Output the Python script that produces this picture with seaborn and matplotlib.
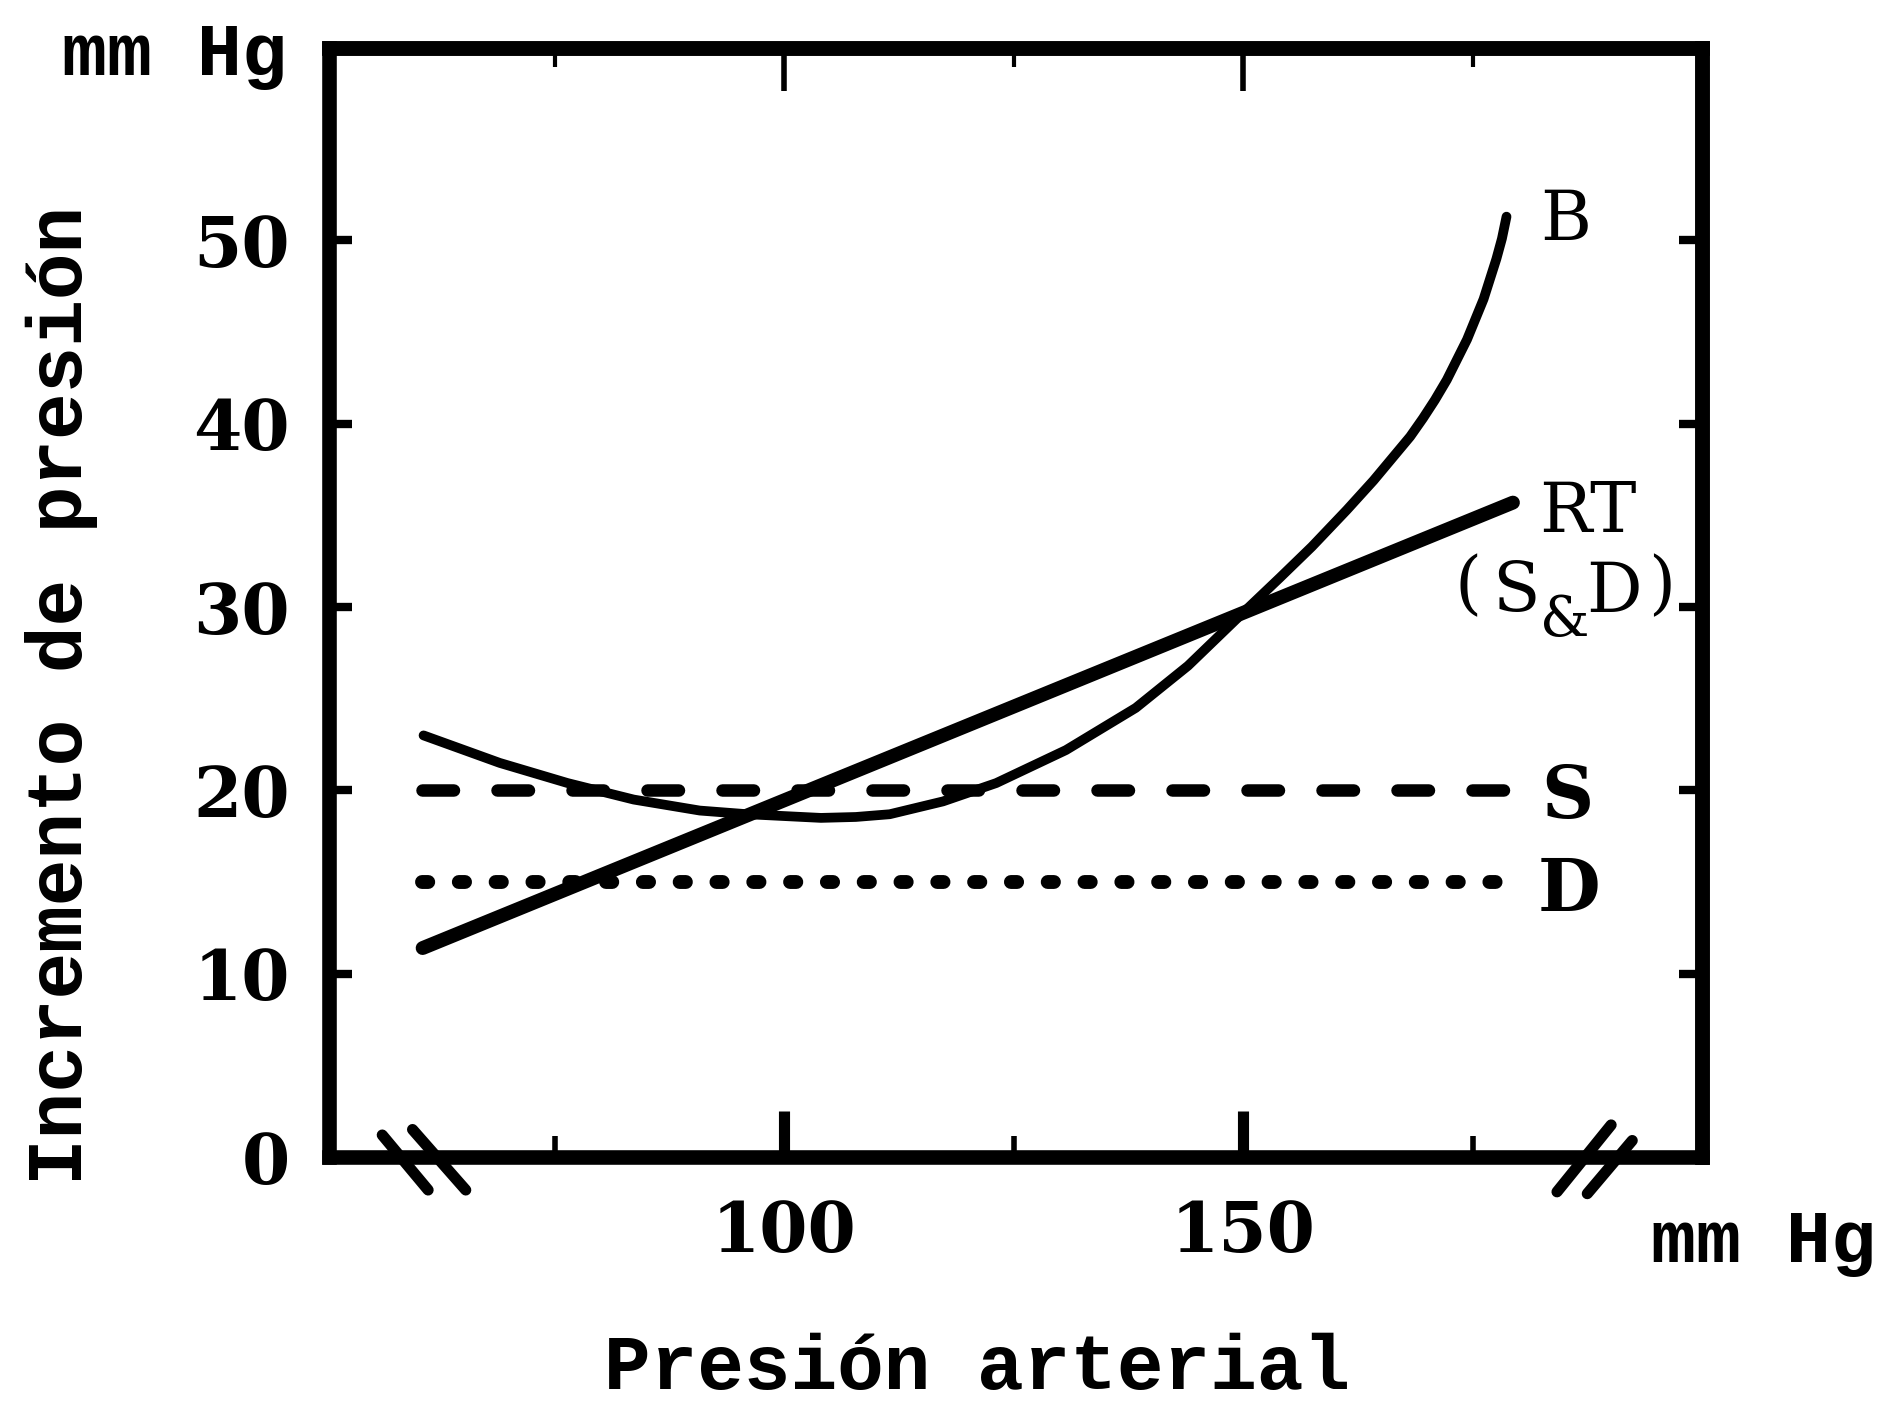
import matplotlib
matplotlib.use("Agg")
import matplotlib.pyplot as plt
import seaborn as sns

# Curve values (mm Hg)
b_x = [60.7, 69.0, 76.4, 83.6, 90.8, 96.0, 100.0, 104.0, 107.8, 111.5, 117.3,
       123.1, 130.7, 138.3, 144.0, 149.8, 154.0, 157.5, 161.3, 164.2, 166.7,
       168.2, 169.6, 170.9, 172.2, 173.3, 174.4, 175.3, 176.2, 176.9, 177.6,
       178.2, 178.7]
b_y = [23.0, 21.5, 20.4, 19.5, 18.9, 18.7, 18.6, 18.5, 18.55, 18.7, 19.4,
       20.4, 22.2, 24.5, 26.8, 29.6, 31.6, 33.3, 35.3, 36.9, 38.4,
       39.3, 40.3, 41.3, 42.4, 43.5, 44.6, 45.7, 46.8, 47.9, 49.0,
       50.1, 51.3]

rt_x = [60.6, 179.4]
rt_y = [11.4, 35.7]

s_x = [60.5, 179.3]
s_y = [20.0, 20.0]

d_x = [60.5, 180.6]
d_y = [15.0, 15.0]

x_major = [100, 150]
x_minor = [75, 125, 175]
y_ticks = [0, 10, 20, 30, 40, 50]
y_tick_labels = ["0", "10", "20", "30", "40", "50"]

# axis break marks (decoration)
break_lines = [
    ([56.2, 61.2], [1.2, -1.8]),
    ([59.5, 65.3], [1.5, -1.8]),
    ([184.2, 190.1], [-1.9, 1.75]),
    ([187.5, 192.4], [-2.0, 0.9]),
]

sns.set_theme(style="white", rc={
    "axes.edgecolor": "black",
    "text.color": "black",
    "axes.labelcolor": "black",
    "xtick.color": "black",
    "ytick.color": "black",
})
plt.rcParams["font.family"] = ["Liberation Mono", "DejaVu Sans Mono"]
serif = ["DejaVu Serif"]

fig = plt.figure(figsize=(18.79, 14.16), dpi=100)
ax = fig.add_axes([0.1751, 0.1829, 0.7307, 0.7832])

sns.lineplot(x=b_x, y=b_y, ax=ax, color="black", linewidth=7,
             solid_capstyle="round", solid_joinstyle="round")
sns.lineplot(x=rt_x, y=rt_y, ax=ax, color="black", linewidth=10,
             solid_capstyle="round")
sns.lineplot(x=s_x, y=s_y, ax=ax, color="black", linewidth=9,
             linestyle=(0, (2.52, 3.48)), dash_capstyle="round")
sns.lineplot(x=d_x, y=d_y, ax=ax, color="black", linewidth=10,
             linestyle=(0, (0.45, 2.2)), dash_capstyle="round")

for bx, by in break_lines:
    ax.plot(bx, by, color="black", lw=8, solid_capstyle="round", clip_on=False)

ax.set_xlim(50.4, 200)
ax.set_ylim(0, 60.5)

for sp in ax.spines.values():
    sp.set_linewidth(10.5)
    sp.set_color("black")
    sp.set_capstyle("projecting")

ax.set_xticks(x_major)
ax.set_xticklabels(["100", "150"])
ax.set_xticks(x_minor, minor=True)
ax.set_yticks(y_ticks)
ax.set_yticklabels(y_tick_labels)

ax.tick_params(axis="x", which="major", direction="in", length=33, width=8,
               pad=30, labelsize=50, bottom=True, top=False)
ax.tick_params(axis="x", which="minor", direction="in", length=15, width=4,
               bottom=True, top=False)
ax.tick_params(axis="y", which="major", direction="in", length=16.5, width=6,
               pad=28, labelsize=50, left=True, right=False)
for lab in ax.get_xticklabels() + ax.get_yticklabels():
    lab.set_family(serif)
    lab.set_fontweight("bold")

# mirrored ticks on top and right
top = ax.secondary_xaxis("top")
top.set_xticks(x_major)
top.set_xticklabels([])
top.set_xticks(x_minor, minor=True)
top.tick_params(which="major", direction="in", length=31, width=4)
top.tick_params(which="minor", direction="in", length=14, width=3)
top.spines["top"].set_linewidth(10.5)
top.spines["top"].set_capstyle("projecting")

right = ax.secondary_yaxis("right")
right.set_yticks(y_ticks[1:])
right.set_yticklabels([])
right.tick_params(which="major", direction="in", length=16.5, width=6)
right.spines["right"].set_linewidth(10.5)
right.spines["right"].set_capstyle("projecting")

ax.set_xlabel("Presión arterial", fontsize=56, fontweight="bold")
ax.xaxis.set_label_coords(0.472, -0.158)
ax.set_ylabel("Incremento de presión", fontsize=56, fontweight="bold")
ax.yaxis.set_label_coords(-0.168, 0.4166)

# curve labels
ax.text(185.2, 50.05, "B", ha="center", va="baseline", fontsize=50,
        family=serif)
ax.text(187.6, 34.1, "RT", ha="center", va="baseline", fontsize=50,
        family=serif)
ax.text(174.5, 31.1, "(", ha="center", va="center", fontsize=50, family=serif)
ax.text(179.7, 29.75, "S", ha="center", va="baseline", fontsize=50,
        family=serif)
ax.text(185.0, 28.4, "&", ha="center", va="baseline", fontsize=40,
        family=serif)
ax.text(190.4, 29.75, "D", ha="center", va="baseline", fontsize=50,
        family=serif)
ax.text(195.6, 31.1, ")", ha="center", va="center", fontsize=50, family=serif)
ax.text(185.3, 18.5, "S", ha="center", va="baseline", fontsize=52,
        family=serif, fontweight="bold")
ax.text(185.5, 13.4, "D", ha="center", va="baseline", fontsize=52,
        family=serif, fontweight="bold")

# units
fig.text(287 / 1879, 1 - 75 / 1416, "mm Hg", ha="right", va="baseline",
         fontsize=54, fontweight="bold")
fig.text(1876 / 1879, 1 - 1262 / 1416, "mm Hg", ha="right", va="baseline",
         fontsize=54, fontweight="bold")

fig.savefig("out.png", dpi=100, facecolor="white")
